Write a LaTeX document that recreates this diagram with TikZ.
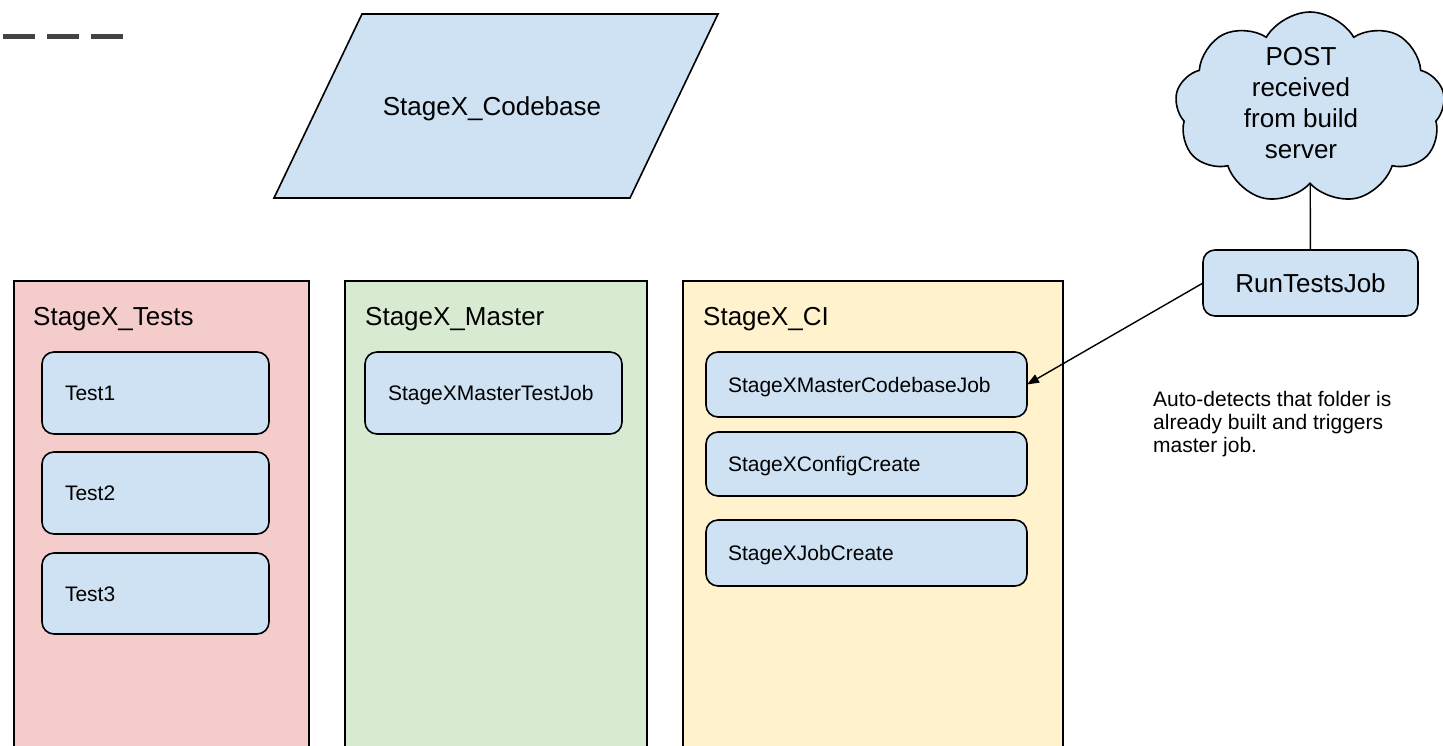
\documentclass[tikz,border=0pt]{standalone}
\usepackage{fontspec}
\setmainfont{Liberation Sans}
\usetikzlibrary{shapes.symbols,arrows.meta}
\definecolor{boxblue}{HTML}{CFE2F3}
\definecolor{panelred}{HTML}{F4CCCC}
\definecolor{panelgreen}{HTML}{D9EAD3}
\definecolor{panelyellow}{HTML}{FFF2CC}
\definecolor{dashgray}{HTML}{434343}
\newcommand{\bigfont}{\fontsize{26pt}{31pt}\selectfont}
\newcommand{\smallfont}{\fontsize{21pt}{23pt}\selectfont}
\begin{document}
\begin{tikzpicture}[x=1pt,y=-1pt,
  outline/.style={draw=black, line width=1.6pt},
  panel/.style={outline},
  paneltitle/.style={anchor=base west, inner sep=0, font=\bigfont},
  jobbox/.style={outline, fill=boxblue, rounded corners=12pt, anchor=north west,
    outer sep=0, inner xsep=23pt, inner ysep=0, text height=15pt, text depth=0pt,
    align=left, font=\smallfont},
  runbox/.style={outline, fill=boxblue, rounded corners=12pt, outer sep=0,
    inner sep=0, font=\bigfont},
  connector/.style={draw=black, line width=1.4pt}
]
\useasboundingbox (0,0) rectangle (1443,745);
\clip (0,0) rectangle (1443,745);

% dashes top-left
\draw[dashgray, line width=4.3pt, dash pattern=on 32pt off 12pt] (3,36.5) -- (123,36.5);

% parallelogram
\filldraw[outline, fill=boxblue] (362,14) -- (718,14) -- (630,198) -- (274,198) -- cycle;
\node[font=\bigfont, anchor=base, inner sep=0] (codebase) at (492,115) {StageX\_Codebase};

% panels
\filldraw[panel, fill=panelred] (14,281) rectangle (309,760);
\filldraw[panel, fill=panelgreen] (345,281) rectangle (647,760);
\filldraw[panel, fill=panelyellow] (683,281) rectangle (1063,760);
\node[paneltitle] (ttests) at (33,325) {StageX\_Tests};
\node[paneltitle] (tmaster) at (365,325) {StageX\_Master};
\node[paneltitle] (tci) at (703,325) {StageX\_CI};

% test boxes
\node[jobbox, text width=181pt, minimum height=82pt] (test1) at (42,352) {Test1};
\node[jobbox, text width=181pt, minimum height=82pt] (test2) at (42,452) {Test2};
\node[jobbox, text width=181pt, minimum height=81pt] (test3) at (42,553) {Test3};

% master box
\node[jobbox, text width=211pt, minimum height=82pt] (mtest) at (365,352) {StageXMasterTestJob};

% CI boxes
\node[jobbox, inner xsep=22pt, text width=277pt, minimum height=65pt] (ci1) at (706,352) {StageXMasterCodebaseJob};
\node[jobbox, inner xsep=22pt, text width=277pt, minimum height=64pt] (ci2) at (706,432) {StageXConfigCreate};
\node[jobbox, inner xsep=22pt, text width=277pt, minimum height=66pt] (ci3) at (706,520) {StageXJobCreate};

% cloud
\node[cloud, outline, fill=boxblue, cloud puffs=9, cloud puff arc=120, aspect=1.4,
  minimum width=270pt, minimum height=192pt, inner sep=0] (cloud) at (1310,108) {};
\node[font=\bigfont, align=center, inner sep=0] (posttext) at (1301,103)
  {POST\\received\\from build\\server};

% run box
\node[runbox, minimum width=215pt, minimum height=66pt] (run) at (1310.5,283) {RunTestsJob};

% connectors
\draw[connector] (cloud) -- (run);
\draw[connector, -{Triangle[length=12pt,width=9pt]}] (run.west) -- (ci1.east);

% annotation
\node[font=\smallfont, align=left, anchor=north west, inner sep=0] (note) at (1153,391)
  {Auto-detects that folder is\\already built and triggers\\master job.};
\end{tikzpicture}
\end{document}
